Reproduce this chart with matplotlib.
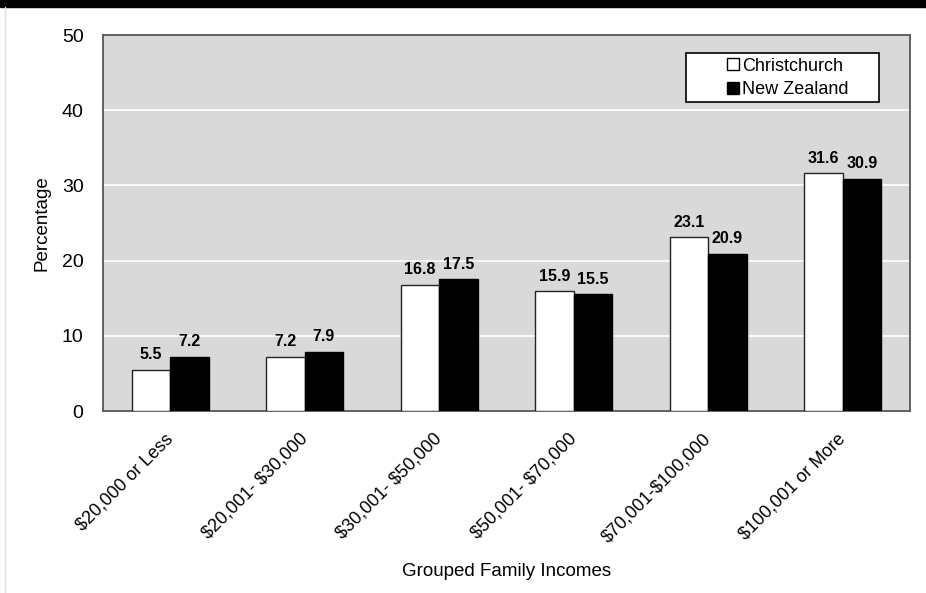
import numpy as np
import matplotlib.pyplot as plt
import matplotlib.transforms as mtransforms
from matplotlib.patches import Rectangle
from matplotlib.lines import Line2D

plt.rcParams['font.family'] = ['Liberation Sans', 'DejaVu Sans']
plt.rcParams['text.parse_math'] = False

categories = ['$20,000 or Less', '$20,001- $30,000', '$30,001- $50,000',
              '$50,001- $70,000', '$70,001-$100,000', '$100,001 or More']
christchurch = [5.5, 7.2, 16.8, 15.9, 23.1, 31.6]
new_zealand = [7.2, 7.9, 17.5, 15.5, 20.9, 30.9]

fig = plt.figure(figsize=(9.26, 5.93), dpi=100)
ax = fig.add_axes([103 / 926, 1 - 411 / 593, 807 / 926, 376 / 593])
ax.set_facecolor('#d9d9d9')

x = np.arange(len(categories))
w = 0.285
ax.bar(x - w / 2, christchurch, w, color='white', edgecolor='#222222',
       linewidth=1, label='Christchurch', zorder=3)
ax.bar(x + w / 2, new_zealand, w, color='black', edgecolor='black',
       linewidth=1, label='New Zealand', zorder=3)

for xi, v in zip(x - w / 2, christchurch):
    ax.text(xi, v + 1.0, f'{v:.1f}', ha='center', va='bottom',
            fontsize=11.5, fontweight='bold')
for xi, v in zip(x + w / 2, new_zealand):
    ax.text(xi, v + 1.0, f'{v:.1f}', ha='center', va='bottom',
            fontsize=11.5, fontweight='bold')

ax.set_xlim(-0.5, len(categories) - 0.5)
ax.set_ylim(0, 50)
ax.set_yticks(range(0, 51, 10))
ax.yaxis.grid(True, color='white', linewidth=1.2, zorder=0)
ax.set_axisbelow(True)
ax.tick_params(axis='y', length=0, pad=14, labelsize=14)
ax.tick_params(axis='x', length=0, pad=14)
ax.set_xticks(x)
ax.set_xticklabels(categories, rotation=45, ha='right', rotation_mode='anchor',
                   fontsize=13)
shift = mtransforms.ScaledTranslation(-6 / 100, 0, fig.dpi_scale_trans)
for lbl in ax.get_xticklabels():
    lbl.set_transform(lbl.get_transform() + shift)
for s in ax.spines.values():
    s.set_color('#555555')
    s.set_linewidth(1.3)

ax.set_ylabel('Percentage', fontsize=13.5, labelpad=8)
ax.set_xlabel('Grouped Family Incomes', fontsize=13.5, labelpad=12)

# legend box drawn separately so it can be wider than its entries
ax.add_patch(Rectangle((0.7224, 0.822), 0.2392, 0.130, transform=ax.transAxes,
                       facecolor='white', edgecolor='black', linewidth=1.2,
                       zorder=5))
handles = [Line2D([], [], marker='s', linestyle='none', markersize=8,
                  markerfacecolor='white', markeredgecolor='black'),
           Line2D([], [], marker='s', linestyle='none', markersize=8,
                  markerfacecolor='black', markeredgecolor='black')]
leg = ax.legend(handles, ['Christchurch', 'New Zealand'], loc='center',
                bbox_to_anchor=(0.849, 0.886), fontsize=13, frameon=False,
                handlelength=0.6, handletextpad=0.2, labelspacing=0.35,
                borderpad=0, borderaxespad=0)
leg.set_zorder(6)

# dark band along the top edge and a faint rule on the left
fig.patches.append(Rectangle((0, 1 - 7 / 593), 1, 7 / 593, transform=fig.transFigure,
                             color='black', zorder=0))
fig.add_artist(Line2D([5 / 926, 5 / 926], [0, 1 - 7 / 593], transform=fig.transFigure,
                      color='#dddddd', linewidth=1))

fig.savefig('out.png', dpi=100)
